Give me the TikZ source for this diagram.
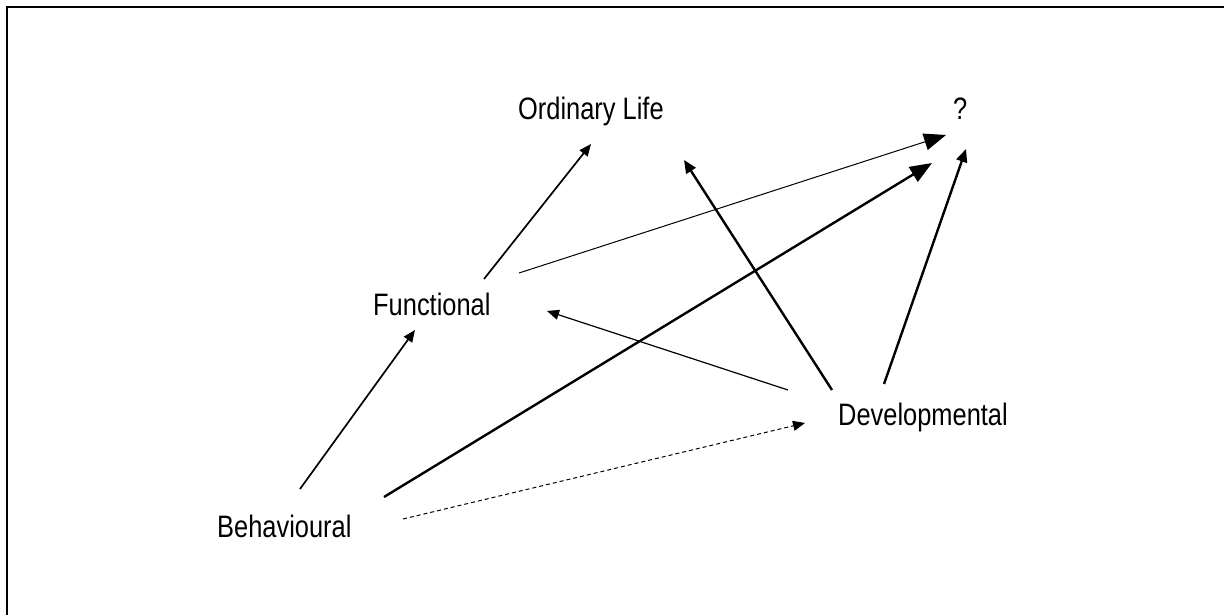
\documentclass[tikz,border=0pt]{standalone}
\usepackage{fontspec}
\newfontfamily\narrowfont[FakeStretch=0.82]{Liberation Sans}
\usetikzlibrary{arrows.meta}
\tikzset{
  lbl/.style={anchor=base west,inner sep=0pt,font=\narrowfont\fontsize{31}{37}\selectfont},
  thinarr/.style={line width=1.2pt,-{Triangle[length=12pt,width=10pt]}},
  medarr/.style={line width=1.7pt,-{Triangle[length=12pt,width=10pt]}},
  thickarr/.style={line width=2.4pt,-{Triangle[length=13pt,width=11pt]}},
  bigthin/.style={line width=1pt,-{Triangle[length=22pt,width=17pt]}},
  bigthick/.style={line width=2.4pt,-{Triangle[length=22pt,width=17pt]}},
  dasharr/.style={line width=1pt,dash pattern=on 4pt off 3pt,-{Triangle[length=12pt,width=10pt]}},
  frame/.style={line width=2pt}
}
\begin{document}
\begin{tikzpicture}[x=1pt,y=-1pt]
\useasboundingbox (0,0) rectangle (1224,615);
\draw[frame] (7,615) -- (7,7) -- (1224,7);
\node[lbl] (ol) at (518,120) {Ordinary Life};
\node[lbl] (q) at (953,120) {?};
\node[lbl] (fu) at (373,315) {Functional};
\node[lbl] (be) at (217,537) {Behavioural};
\node[lbl] (de) at (838,425) {Developmental};
% connector end points
\coordinate (be1) at (300,489);
\coordinate (be2) at (384,497);
\coordinate (be3) at (403,519);
\coordinate (fu1) at (415,330);
\coordinate (fu2) at (484,279);
\coordinate (fu3) at (519,273);
\coordinate (fu4) at (547,311);
\coordinate (ol1) at (591,144);
\coordinate (ol2) at (684,160);
\coordinate (q1) at (946,135);
\coordinate (q2) at (932,163);
\coordinate (q3) at (966,149);
\coordinate (de1) at (884,384);
\coordinate (de2) at (832,390);
\coordinate (de3) at (788,390);
\coordinate (de4) at (805,423);
\draw[medarr] (be1) -- (fu1);
\draw[medarr] (fu2) -- (ol1);
\draw[bigthin] (fu3) -- (q1);
\draw[bigthick] (be2) -- (q2);
\draw[thickarr] (de1) -- (q3);
\draw[thickarr] (de2) -- (ol2);
\draw[thinarr] (de3) -- (fu4);
\draw[dasharr] (be3) -- (de4);
\end{tikzpicture}
\end{document}
